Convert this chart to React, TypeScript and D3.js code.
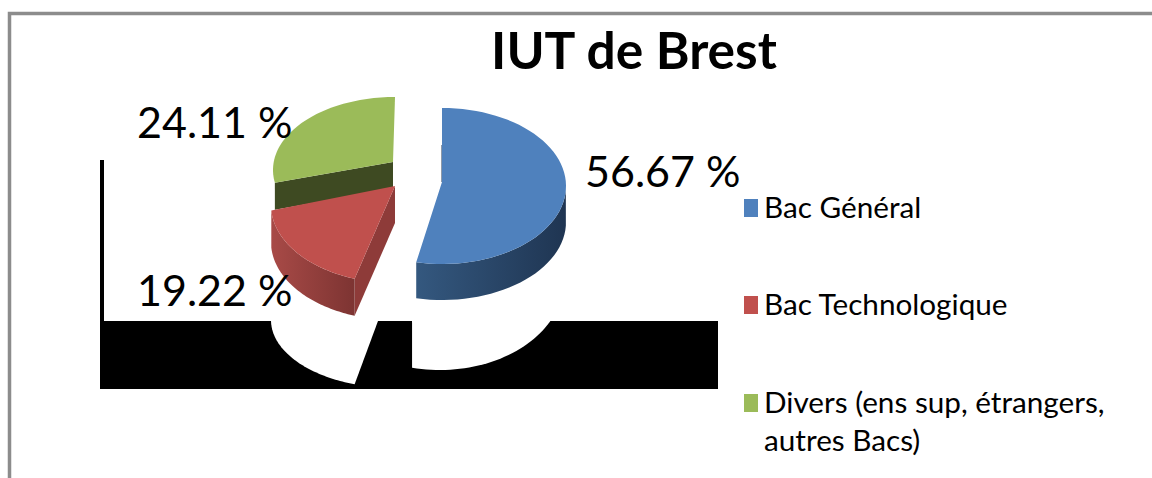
import React from 'react';
import * as d3 from 'd3';

const width = 1152;
const height = 478;

const categories = ['Bac Général', 'Bac Technologique', 'Divers (ens sup, étrangers,'];
const categoryExtra = ['', '', 'autres Bacs)'];
const shares = [56.67, 19.22, 24.11];
const topColors = ['#4f81bd', '#c0504d', '#9bbb59'];
const wallFrom = ['#34587f', '#a84a47', '#3e4a22'];
const wallTo = ['#1f3552', '#7d3432', '#3e4a22'];
const cutColors = ['#1f3552', '#8e3b39', '#3e4a22'];

// where the exploded slices land once tilted (degrees are display angles, warped by perspective)
const sliceViews = [
  { apex: [442, 182], cx: 442, cy: 186, rx: 124, ry: 78, from: 0, to: 192, depth: 36 },
  { apex: [395, 186], cx: 395, cy: 205, rx: 124, ry: 78, from: 199, to: 266, depth: 37 },
  { apex: [393, 162], cx: 395, cy: 170, rx: 122, ry: 73, from: 260, to: 360, depth: 27 },
];
// the white "shadow" showing through the black plate
const shadowViews = [
  { apex: [412, 300], cx: 440, cy: 280, rx: 124, ry: 90, from: 60, to: 193 },
  { apex: [395, 275], cx: 395, cy: 320, rx: 124, ry: 68, from: 199, to: 272 },
];
const labelPos = [
  [585, 187],
  [137, 306],
  [137, 138],
];
const legendY = [218, 315, 413];

const pie = d3.pie<number>().sort(null);
const slices = pie(shares);
const line = d3.line();
const font = 'Lato, Carlito, sans-serif';

type View = { cx: number; cy: number; rx: number; ry: number; from: number; to: number };

// data angle -> display angle -> point on the tilted ellipse
const arcPoints = (s: d3.PieArcDatum<number>, v: View, minDeg = -Infinity) => {
  const warp = d3.scaleLinear().domain([s.startAngle, s.endAngle]).range([v.from, v.to]);
  const pts: [number, number][] = [];
  d3.range(0, 61).forEach((k) => {
    const deg = warp(s.startAngle + ((s.endAngle - s.startAngle) * k) / 60);
    if (deg < minDeg) return;
    const a = (deg * Math.PI) / 180;
    pts.push([v.cx + v.rx * Math.sin(a), v.cy - v.ry * Math.cos(a)]);
  });
  return pts;
};

export default function App() {
  return (
    <svg
      width={width}
      height={height}
      style={{ position: 'absolute', left: 0, top: 0, display: 'block', background: '#fff' }}
    >
      <defs>
        {slices.map((s, i) => (
          <linearGradient key={i} id={`wall${i}`} x1="0" x2="1" y1="0" y2="0">
            <stop offset="0%" stopColor={wallFrom[i]} />
            <stop offset="100%" stopColor={wallTo[i]} />
          </linearGradient>
        ))}
      </defs>

      <path d="M9.5,478V13.5H1152" fill="none" stroke="#8c8c8c" strokeWidth={3.5} />

      <rect x={100} y={321} width={618} height={68} fill="#000" />
      {shadowViews.map((v, i) => (
        <path
          key={i}
          d={line([v.apex as [number, number], ...arcPoints(slices[i], v)]) + 'Z'}
          fill="#fff"
        />
      ))}
      <rect x={100} y={160} width={4} height={161} fill="#000" />

      <text x={634} y={69} textAnchor="middle" fontFamily={font} fontWeight={700} fontSize={51.5} fill="#000">
        IUT de Brest
      </text>

      {[2, 1, 0].map((i) => {
        const s = slices[i];
        const v = sliceViews[i];
        const rim = arcPoints(s, v);
        const apex = v.apex as [number, number];
        // the outer wall only shows on the front half of the ellipse
        const front = i === 2 ? [] : arcPoints(s, v, 90);
        const wall = front.length
          ? line([...front, ...front.slice().reverse().map((p) => [p[0], p[1] + v.depth] as [number, number])]) + 'Z'
          : null;
        // cut face below the straight edge that faces the viewer
        const cut =
          line([apex, rim[0], [rim[0][0], rim[0][1] + v.depth], [apex[0], apex[1] + v.depth]]) + 'Z';
        return (
          <g key={i}>
            {i === 0 ? (
              <path d={line([[443, 145], [443, 182]]) as string} stroke={cutColors[0]} strokeWidth={3} />
            ) : (
              <path d={cut} fill={cutColors[i]} />
            )}
            {wall && <path d={wall} fill={`url(#wall${i})`} />}
            <path d={line([apex, ...rim]) + 'Z'} fill={topColors[i]} />
          </g>
        );
      })}

      {slices.map((s, i) => (
        <text key={i} x={labelPos[i][0]} y={labelPos[i][1]} fontFamily={font} fontSize={43} fill="#000">
          {`${shares[i].toFixed(2)} %`}
        </text>
      ))}

      {categories.map((c, i) => (
        <g key={c}>
          <rect x={744} y={legendY[i] - 19} width={14} height={18} fill={topColors[i]} />
          <text x={764} y={legendY[i]} fontFamily={font} fontSize={29.7} fill="#000">
            {c}
          </text>
          {categoryExtra[i] && (
            <text x={764} y={legendY[i] + 38} fontFamily={font} fontSize={29.7} fill="#000">
              {categoryExtra[i]}
            </text>
          )}
        </g>
      ))}
    </svg>
  );
}
